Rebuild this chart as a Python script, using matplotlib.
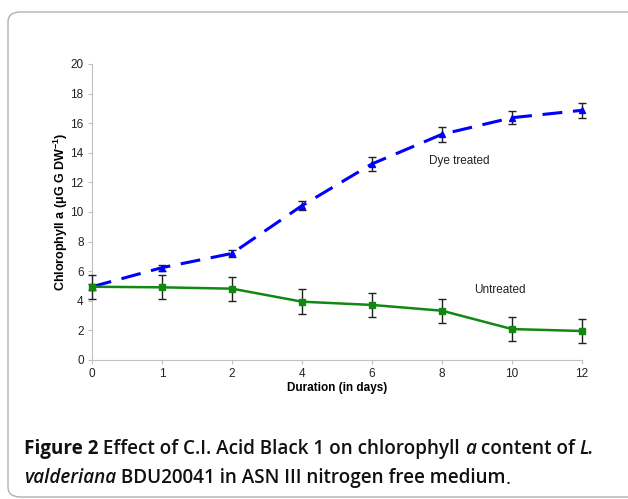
import numpy as np
import matplotlib
matplotlib.use('Agg')
import matplotlib.pyplot as plt
from matplotlib.patches import FancyBboxPatch
from matplotlib.text import Annotation

plt.rcParams['font.family'] = ['Liberation Sans', 'DejaVu Sans']
plt.rcParams['mathtext.fontset'] = 'custom'
plt.rcParams['mathtext.rm'] = 'Liberation Sans:bold'
plt.rcParams['mathtext.bf'] = 'Liberation Sans:bold'
plt.rcParams['mathtext.default'] = 'bf'

# data
days = ['0', '1', '2', '4', '6', '8', '10', '12']
dye = [4.95, 6.24, 7.2, 10.43, 13.25, 15.25, 16.37, 16.87]
dye_err = [0.2, 0.2, 0.22, 0.3, 0.45, 0.5, 0.45, 0.5]
untreated = [4.95, 4.91, 4.82, 3.94, 3.72, 3.33, 2.09, 1.96]
untreated_err = [0.8, 0.8, 0.8, 0.84, 0.8, 0.8, 0.8, 0.83]

fig = plt.figure(figsize=(6.28, 4.99), dpi=100)

# rounded frame round the whole figure
frame = FancyBboxPatch((8/628, 2/499), 1.2, 485/499,
                       boxstyle='round,pad=0,rounding_size=0.02',
                       transform=fig.transFigure, fill=False,
                       edgecolor='#b0b0b0', linewidth=1.0)
fig.patches.append(frame)

ax = fig.add_axes([92/628, 1 - 360/499, 490/628, 296/499])
x = np.arange(len(days))

for vals, err, col, ls, lw, mk, ms in [
        (dye, dye_err, '#0000ff', (0, (6.5, 3.5)), 2.2, '^', 5),
        (untreated, untreated_err, '#118811', '-', 1.8, 's', 4.5)]:
    lines = ax.errorbar(x, vals, yerr=err, color=col, linestyle=ls,
                        linewidth=lw, marker=mk, markersize=ms,
                        ecolor='#222222', elinewidth=1, capsize=3,
                        capthick=1, zorder=3)
    for a in lines.lines[1] + lines.lines[2]:
        a.set_clip_on(False)
    lines.lines[0].set_clip_on(False)

ax.set_xlim(0, len(days) - 1)
ax.set_ylim(0, 20)
ax.set_xticks(x)
ax.set_xticklabels(days)
ax.set_yticks(range(0, 21, 2))
ax.tick_params(labelsize=8.5, colors='#c0c0c0', labelcolor='#222222',
               length=3, width=0.8, pad=3)
for s in ['top', 'right']:
    ax.spines[s].set_visible(False)
for s in ['left', 'bottom']:
    ax.spines[s].set_color('#c0c0c0')
    ax.spines[s].set_linewidth(0.8)

ax.set_xlabel('Duration (in days)', fontsize=8.5, fontweight='bold', labelpad=1)
ax.set_ylabel(r'Chlorophyll a ($\mu$G G DW$^{-1}$)', fontsize=9,
              fontweight='bold', labelpad=0)

ax.text(5.24, 13.45, 'Dye treated', fontsize=8.5, color='#222222',
        ha='center', va='center')
ax.text(5.83, 4.75, 'Untreated', fontsize=8.5, color='#222222',
        ha='center', va='center')

# caption built from pieces so bold / italic can be mixed
cap = dict(fontsize=13.6, family='Open Sans', color='#111111')
line1 = [('Figure 2', 'bold', 'normal'),
         (' Effect of C.I. Acid Black 1 on chlorophyll ', 'semibold', 'normal'),
         ('a', 'semibold', 'italic'),
         (' content of ', 'semibold', 'normal'),
         ('L.', 'semibold', 'italic')]
line2 = [('valderiana', 'semibold', 'italic'),
         (' BDU20041 in ASN III nitrogen free medium', 'semibold', 'normal'),
         ('.', 'normal', 'normal')]


def put_line(pieces, y):
    prev = None
    for txt, w, st in pieces:
        if prev is None:
            prev = fig.text(24/628, y, txt, fontweight=w, style=st,
                            va='bottom', **cap)
        else:
            prev = fig.add_artist(Annotation(
                txt, xy=(1, 0), xycoords=prev, va='bottom', ha='left',
                fontweight=w, style=st, annotation_clip=False, **cap))


put_line(line1, 1 - 459/499)
put_line(line2, 1 - 488/499)

fig.savefig('out.png', dpi=100)
